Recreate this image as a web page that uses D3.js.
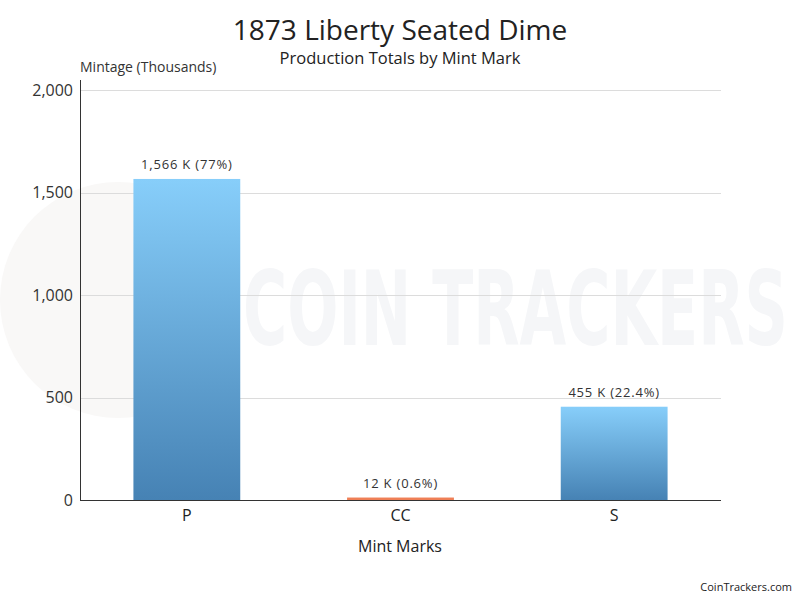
<!DOCTYPE html>
<html>
<head>
<meta charset="utf-8">
<script src="https://cdn.jsdelivr.net/npm/d3@7"></script>
<style>
  body { margin: 0; background: #fff; }
  svg text { font-family: "Open Sans", "Noto Sans", sans-serif; }
</style>
</head>
<body>
<div id="chart"></div>
<script>
var mintMarks = ["P", "CC", "S"];
var mintage = [1566, 12, 455];
var labels = ["1,566 K (77%)", "12 K (0.6%)", "455 K (22.4%)"];
var yTicks = [0, 500, 1000, 1500, 2000];

var w = 800, h = 600;
var plotLeft = 80, plotRight = 721, plotTop = 90, plotBottom = 500;

var svg = d3.select("#chart").append("svg")
  .attr("width", w)
  .attr("height", h);

var defs = svg.append("defs");
var grad = defs.append("linearGradient")
  .attr("id", "blueGrad")
  .attr("x1", 0).attr("y1", 0).attr("x2", 0).attr("y2", 1);
grad.append("stop").attr("offset", "0%").attr("stop-color", "#87cefa");
grad.append("stop").attr("offset", "100%").attr("stop-color", "#4682b4");

// faint watermark
svg.append("circle")
  .attr("cx", 118).attr("cy", 300).attr("r", 118)
  .attr("fill", "#f9f8f7");
svg.append("text")
  .attr("x", 243).attr("y", 345)
  .attr("textLength", 545)
  .attr("lengthAdjust", "spacingAndGlyphs")
  .style("font-family", "'DejaVu Sans Condensed', sans-serif")
  .style("font-weight", "bold")
  .style("font-size", "104px")
  .attr("fill", "#f5f6f8")
  .text("COIN TRACKERS");

var x = d3.scaleBand()
  .domain(mintMarks)
  .range([plotLeft, plotRight])
  .paddingInner(0.5)
  .paddingOuter(0.25);

var y = d3.scaleLinear()
  .domain([0, 2000])
  .range([plotBottom, plotTop]);

// gridlines
svg.append("g")
  .selectAll("line")
  .data(yTicks.slice(1))
  .enter()
  .append("line")
  .attr("x1", plotLeft).attr("x2", plotRight)
  .attr("y1", function(d) { return Math.round(y(d)) + 0.5; })
  .attr("y2", function(d) { return Math.round(y(d)) + 0.5; })
  .attr("stroke", "#dcdcdc")
  .attr("stroke-width", 1);

// y axis
var yAxis = svg.append("g")
  .attr("transform", "translate(" + plotLeft + ",0)")
  .call(d3.axisLeft(y).tickValues(yTicks).tickSize(0).tickPadding(7).tickFormat(d3.format(",")));
yAxis.select(".domain").attr("stroke", "#333").attr("d", "M0.5," + (plotTop - 10) + "V" + plotBottom);
yAxis.selectAll("text")
  .style("font-size", "16px")
  .attr("fill", "#333");

// bars
svg.append("g")
  .selectAll("rect")
  .data(mintage)
  .enter()
  .append("rect")
  .attr("x", function(d, i) { return x(mintMarks[i]); })
  .attr("width", x.bandwidth())
  .attr("y", function(d) { return y(d); })
  .attr("height", function(d) { return plotBottom - y(d); })
  .attr("fill", function(d, i) {
    if (mintMarks[i] == "CC") {
      return "#ef7f56";
    } else {
      return "url(#blueGrad)";
    }
  });

// value labels
svg.append("g")
  .selectAll("text")
  .data(mintage)
  .enter()
  .append("text")
  .attr("x", function(d, i) { return x(mintMarks[i]) + x.bandwidth() / 2; })
  .attr("y", function(d) { return y(d) - 10; })
  .attr("text-anchor", "middle")
  .style("font-size", "13px")
  .style("letter-spacing", "0.8px")
  .attr("fill", "#333")
  .text(function(d, i) { return labels[i]; });

// x axis
var xAxis = svg.append("g")
  .attr("transform", "translate(0," + plotBottom + ")")
  .call(d3.axisBottom(x).tickSize(0).tickPadding(10));
xAxis.select(".domain").attr("stroke", "#333").attr("d", "M" + plotLeft + ",0.5H" + plotRight);
xAxis.selectAll("text")
  .style("font-size", "16px")
  .attr("fill", "#222");

// titles
svg.append("text")
  .attr("x", 400).attr("y", 40)
  .attr("text-anchor", "middle")
  .style("font-size", "28px")
  .attr("fill", "#222")
  .text("1873 Liberty Seated Dime");
svg.append("text")
  .attr("x", 400).attr("y", 64)
  .attr("text-anchor", "middle")
  .style("font-size", "16.5px")
  .attr("fill", "#222")
  .text("Production Totals by Mint Mark");
svg.append("text")
  .attr("x", 80).attr("y", 72)
  .style("font-size", "14px")
  .attr("fill", "#333")
  .text("Mintage (Thousands)");
svg.append("text")
  .attr("x", 400).attr("y", 552)
  .attr("text-anchor", "middle")
  .style("font-size", "16px")
  .attr("fill", "#222")
  .text("Mint Marks");
svg.append("text")
  .attr("x", 792).attr("y", 591)
  .attr("text-anchor", "end")
  .style("font-size", "11px")
  .attr("fill", "#222")
  .text("CoinTrackers.com");
</script>
</body>
</html>
